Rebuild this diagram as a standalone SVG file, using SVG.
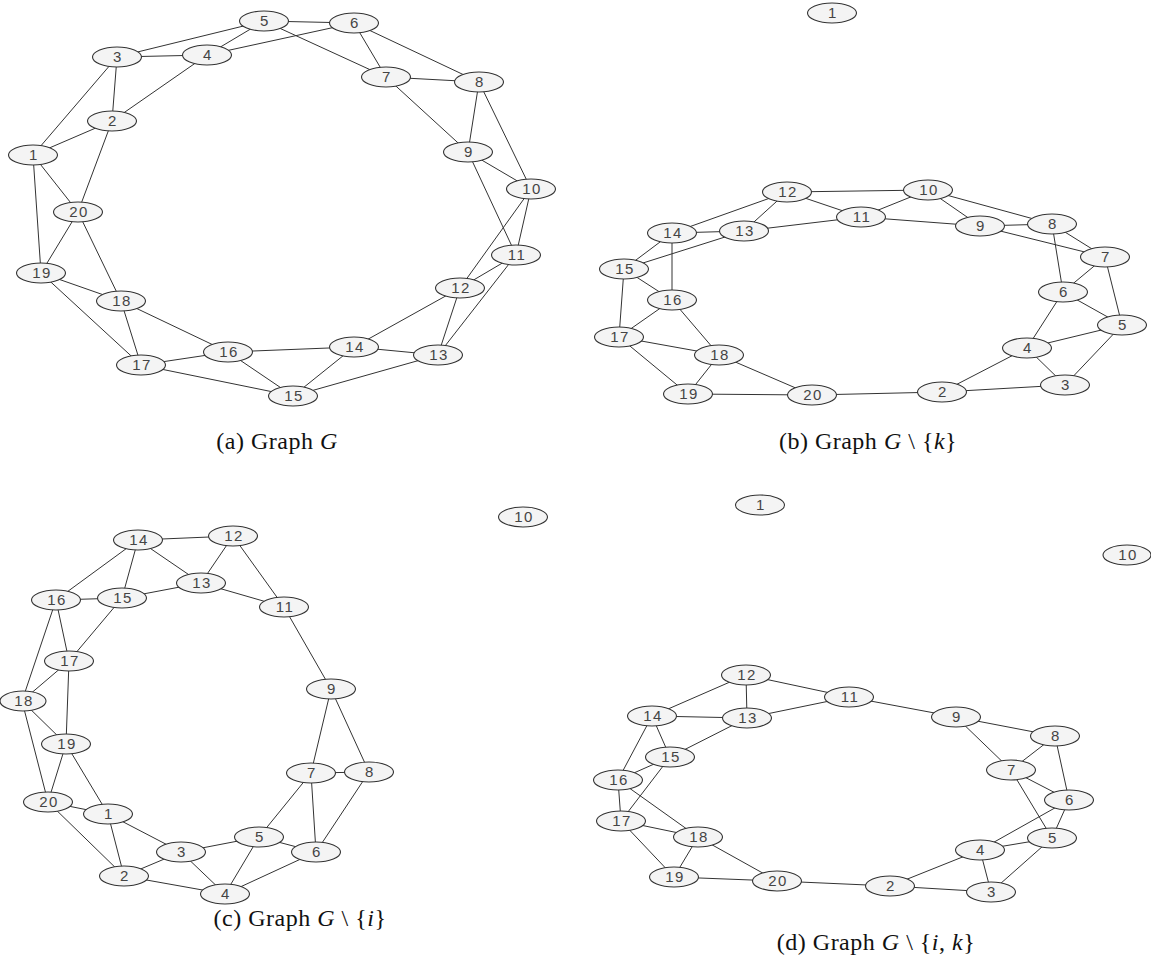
<svg xmlns="http://www.w3.org/2000/svg" width="1151" height="955" viewBox="0 0 1151 955">
<style>
.bg{fill:#ffffff}
.e line{stroke:#333333;stroke-width:1}
.node ellipse{fill:#f4f4f4;stroke:#333333;stroke-width:1.1}
.node text{font-family:"Liberation Sans",Arial,sans-serif;font-size:15px;fill:#444444;text-anchor:middle;letter-spacing:1.5px}
.cap{font-family:"Liberation Serif","Times New Roman",serif;font-size:24px;fill:#111111;text-anchor:middle;letter-spacing:0.5px}
.it{font-style:italic}
</style>
<rect class="bg" x="0" y="0" width="1151" height="955"/>
<g id="connectors" class="e">
<!-- (a) -->
<line x1="33" y1="155" x2="112" y2="121"/><line x1="33" y1="155" x2="117" y2="57"/><line x1="33" y1="155" x2="41" y2="273"/><line x1="33" y1="155" x2="78" y2="212"/>
<line x1="112" y1="121" x2="117" y2="57"/><line x1="112" y1="121" x2="207" y2="55"/><line x1="112" y1="121" x2="78" y2="212"/>
<line x1="117" y1="57" x2="207" y2="55"/><line x1="117" y1="57" x2="264" y2="21"/>
<line x1="207" y1="55" x2="264" y2="21"/><line x1="207" y1="55" x2="354" y2="23"/>
<line x1="264" y1="21" x2="354" y2="23"/><line x1="264" y1="21" x2="386" y2="77"/>
<line x1="354" y1="23" x2="386" y2="77"/><line x1="354" y1="23" x2="479" y2="82"/>
<line x1="386" y1="77" x2="479" y2="82"/><line x1="386" y1="77" x2="468" y2="152"/>
<line x1="479" y1="82" x2="468" y2="152"/><line x1="479" y1="82" x2="531" y2="189"/>
<line x1="468" y1="152" x2="531" y2="189"/><line x1="468" y1="152" x2="516" y2="255"/>
<line x1="531" y1="189" x2="516" y2="255"/><line x1="531" y1="189" x2="460" y2="288"/>
<line x1="516" y1="255" x2="460" y2="288"/><line x1="516" y1="255" x2="438" y2="355"/>
<line x1="460" y1="288" x2="438" y2="355"/><line x1="460" y1="288" x2="354" y2="347"/>
<line x1="438" y1="355" x2="354" y2="347"/><line x1="438" y1="355" x2="293" y2="396"/>
<line x1="354" y1="347" x2="293" y2="396"/><line x1="354" y1="347" x2="228" y2="352"/>
<line x1="293" y1="396" x2="228" y2="352"/><line x1="293" y1="396" x2="141" y2="365"/>
<line x1="228" y1="352" x2="141" y2="365"/><line x1="228" y1="352" x2="121" y2="301"/>
<line x1="141" y1="365" x2="121" y2="301"/><line x1="141" y1="365" x2="41" y2="273"/>
<line x1="121" y1="301" x2="41" y2="273"/><line x1="121" y1="301" x2="78" y2="212"/>
<line x1="41" y1="273" x2="78" y2="212"/>
<!-- (b) -->
<line x1="787" y1="192" x2="928" y2="190"/><line x1="787" y1="192" x2="861" y2="217"/><line x1="787" y1="192" x2="672" y2="233"/><line x1="787" y1="192" x2="744" y2="231"/>
<line x1="672" y1="233" x2="744" y2="231"/><line x1="672" y1="233" x2="624" y2="269"/><line x1="672" y1="233" x2="672" y2="300"/>
<line x1="744" y1="231" x2="624" y2="269"/><line x1="744" y1="231" x2="861" y2="217"/>
<line x1="624" y1="269" x2="672" y2="300"/><line x1="624" y1="269" x2="619" y2="337"/>
<line x1="672" y1="300" x2="619" y2="337"/><line x1="672" y1="300" x2="719" y2="355"/>
<line x1="619" y1="337" x2="719" y2="355"/><line x1="619" y1="337" x2="688" y2="394"/>
<line x1="719" y1="355" x2="688" y2="394"/><line x1="719" y1="355" x2="812" y2="395"/>
<line x1="688" y1="394" x2="812" y2="395"/><line x1="812" y1="395" x2="942" y2="392"/>
<line x1="861" y1="217" x2="928" y2="190"/><line x1="861" y1="217" x2="980" y2="226"/>
<line x1="928" y1="190" x2="980" y2="226"/><line x1="928" y1="190" x2="1052" y2="224"/>
<line x1="980" y1="226" x2="1052" y2="224"/><line x1="980" y1="226" x2="1105" y2="257"/>
<line x1="1052" y1="224" x2="1105" y2="257"/><line x1="1052" y1="224" x2="1063" y2="292"/>
<line x1="1105" y1="257" x2="1063" y2="292"/><line x1="1105" y1="257" x2="1122" y2="325"/>
<line x1="1063" y1="292" x2="1122" y2="325"/><line x1="1063" y1="292" x2="1027" y2="348"/>
<line x1="1027" y1="348" x2="1122" y2="325"/><line x1="1027" y1="348" x2="1065" y2="385"/>
<line x1="1122" y1="325" x2="1065" y2="385"/><line x1="1027" y1="348" x2="942" y2="392"/>
<line x1="942" y1="392" x2="1065" y2="385"/>
<!-- (c) -->
<line x1="138" y1="540" x2="233" y2="536"/><line x1="138" y1="540" x2="201" y2="583"/><line x1="138" y1="540" x2="122" y2="598"/><line x1="138" y1="540" x2="56" y2="600"/>
<line x1="233" y1="536" x2="201" y2="583"/><line x1="233" y1="536" x2="284" y2="607"/>
<line x1="201" y1="583" x2="122" y2="598"/><line x1="201" y1="583" x2="284" y2="607"/>
<line x1="56" y1="600" x2="122" y2="598"/><line x1="56" y1="600" x2="69" y2="661"/><line x1="56" y1="600" x2="22" y2="701"/>
<line x1="122" y1="598" x2="69" y2="661"/>
<line x1="69" y1="661" x2="22" y2="701"/><line x1="69" y1="661" x2="66" y2="744"/>
<line x1="22" y1="701" x2="66" y2="744"/><line x1="22" y1="701" x2="48" y2="802"/>
<line x1="66" y1="744" x2="48" y2="802"/><line x1="66" y1="744" x2="108" y2="814"/>
<line x1="48" y1="802" x2="108" y2="814"/><line x1="48" y1="802" x2="124" y2="876"/>
<line x1="108" y1="814" x2="124" y2="876"/><line x1="108" y1="814" x2="181" y2="852"/>
<line x1="181" y1="852" x2="124" y2="876"/><line x1="181" y1="852" x2="259" y2="837"/><line x1="181" y1="852" x2="225" y2="894"/>
<line x1="124" y1="876" x2="225" y2="894"/>
<line x1="259" y1="837" x2="225" y2="894"/><line x1="259" y1="837" x2="311" y2="773"/><line x1="259" y1="837" x2="316" y2="852"/>
<line x1="225" y1="894" x2="316" y2="852"/>
<line x1="311" y1="773" x2="316" y2="852"/><line x1="311" y1="773" x2="331" y2="689"/><line x1="311" y1="773" x2="369" y2="772"/>
<line x1="369" y1="772" x2="316" y2="852"/><line x1="369" y1="772" x2="331" y2="689"/>
<line x1="331" y1="689" x2="284" y2="607"/>
<!-- (d) -->
<line x1="746" y1="675" x2="652" y2="716"/><line x1="746" y1="675" x2="747" y2="718"/><line x1="746" y1="675" x2="849" y2="697"/>
<line x1="652" y1="716" x2="747" y2="718"/><line x1="652" y1="716" x2="670" y2="757"/><line x1="652" y1="716" x2="618" y2="780"/>
<line x1="747" y1="718" x2="670" y2="757"/><line x1="747" y1="718" x2="849" y2="697"/>
<line x1="670" y1="757" x2="618" y2="780"/><line x1="670" y1="757" x2="621" y2="821"/>
<line x1="618" y1="780" x2="621" y2="821"/><line x1="618" y1="780" x2="698" y2="837"/>
<line x1="621" y1="821" x2="698" y2="837"/><line x1="621" y1="821" x2="674" y2="877"/>
<line x1="698" y1="837" x2="674" y2="877"/><line x1="698" y1="837" x2="777" y2="881"/>
<line x1="674" y1="877" x2="777" y2="881"/><line x1="777" y1="881" x2="890" y2="886"/>
<line x1="849" y1="697" x2="956" y2="717"/>
<line x1="956" y1="717" x2="1055" y2="736"/><line x1="956" y1="717" x2="1011" y2="770"/>
<line x1="1055" y1="736" x2="1011" y2="770"/><line x1="1055" y1="736" x2="1069" y2="800"/>
<line x1="1011" y1="770" x2="1069" y2="800"/><line x1="1011" y1="770" x2="1052" y2="838"/>
<line x1="1069" y1="800" x2="1052" y2="838"/><line x1="1069" y1="800" x2="980" y2="850"/>
<line x1="980" y1="850" x2="1052" y2="838"/><line x1="980" y1="850" x2="991" y2="892"/>
<line x1="1052" y1="838" x2="991" y2="892"/><line x1="980" y1="850" x2="890" y2="886"/>
<line x1="890" y1="886" x2="991" y2="892"/>
</g>
<!-- Graph (a) nodes -->
<g id="a-n1" class="node"><ellipse cx="33" cy="155" rx="24.5" ry="10"/><text x="34" y="160">1</text></g>
<g id="a-n2" class="node"><ellipse cx="112" cy="121" rx="24.5" ry="10"/><text x="113" y="126">2</text></g>
<g id="a-n3" class="node"><ellipse cx="117" cy="57" rx="24.5" ry="10"/><text x="118" y="62">3</text></g>
<g id="a-n4" class="node"><ellipse cx="207" cy="55" rx="24.5" ry="10"/><text x="208" y="60">4</text></g>
<g id="a-n5" class="node"><ellipse cx="264" cy="21" rx="24.5" ry="10"/><text x="265" y="26">5</text></g>
<g id="a-n6" class="node"><ellipse cx="354" cy="23" rx="24.5" ry="10"/><text x="355" y="28">6</text></g>
<g id="a-n7" class="node"><ellipse cx="386" cy="77" rx="24.5" ry="10"/><text x="387" y="82">7</text></g>
<g id="a-n8" class="node"><ellipse cx="479" cy="82" rx="24.5" ry="10"/><text x="480" y="87">8</text></g>
<g id="a-n9" class="node"><ellipse cx="468" cy="152" rx="24.5" ry="10"/><text x="469" y="157">9</text></g>
<g id="a-n10" class="node"><ellipse cx="531" cy="189" rx="24.5" ry="10"/><text x="532" y="194">10</text></g>
<g id="a-n11" class="node"><ellipse cx="516" cy="255" rx="24.5" ry="10"/><text x="517" y="260">11</text></g>
<g id="a-n12" class="node"><ellipse cx="460" cy="288" rx="24.5" ry="10"/><text x="461" y="293">12</text></g>
<g id="a-n13" class="node"><ellipse cx="438" cy="355" rx="24.5" ry="10"/><text x="439" y="360">13</text></g>
<g id="a-n14" class="node"><ellipse cx="354" cy="347" rx="24.5" ry="10"/><text x="355" y="352">14</text></g>
<g id="a-n15" class="node"><ellipse cx="293" cy="396" rx="24.5" ry="10"/><text x="294" y="401">15</text></g>
<g id="a-n16" class="node"><ellipse cx="228" cy="352" rx="24.5" ry="10"/><text x="229" y="357">16</text></g>
<g id="a-n17" class="node"><ellipse cx="141" cy="365" rx="24.5" ry="10"/><text x="142" y="370">17</text></g>
<g id="a-n18" class="node"><ellipse cx="121" cy="301" rx="24.5" ry="10"/><text x="122" y="306">18</text></g>
<g id="a-n19" class="node"><ellipse cx="41" cy="273" rx="24.5" ry="10"/><text x="42" y="278">19</text></g>
<g id="a-n20" class="node"><ellipse cx="78" cy="212" rx="24.5" ry="10"/><text x="79" y="217">20</text></g>
<!-- Graph (b) nodes -->
<g id="b-n1" class="node"><ellipse cx="832" cy="13" rx="24.5" ry="10"/><text x="833" y="18">1</text></g>
<g id="b-n2" class="node"><ellipse cx="942" cy="392" rx="24.5" ry="10"/><text x="943" y="397">2</text></g>
<g id="b-n3" class="node"><ellipse cx="1065" cy="385" rx="24.5" ry="10"/><text x="1066" y="390">3</text></g>
<g id="b-n4" class="node"><ellipse cx="1027" cy="348" rx="24.5" ry="10"/><text x="1028" y="353">4</text></g>
<g id="b-n5" class="node"><ellipse cx="1122" cy="325" rx="24.5" ry="10"/><text x="1123" y="330">5</text></g>
<g id="b-n6" class="node"><ellipse cx="1063" cy="292" rx="24.5" ry="10"/><text x="1064" y="297">6</text></g>
<g id="b-n7" class="node"><ellipse cx="1105" cy="257" rx="24.5" ry="10"/><text x="1106" y="262">7</text></g>
<g id="b-n8" class="node"><ellipse cx="1052" cy="224" rx="24.5" ry="10"/><text x="1053" y="229">8</text></g>
<g id="b-n9" class="node"><ellipse cx="980" cy="226" rx="24.5" ry="10"/><text x="981" y="231">9</text></g>
<g id="b-n10" class="node"><ellipse cx="928" cy="190" rx="24.5" ry="10"/><text x="929" y="195">10</text></g>
<g id="b-n11" class="node"><ellipse cx="861" cy="217" rx="24.5" ry="10"/><text x="862" y="222">11</text></g>
<g id="b-n12" class="node"><ellipse cx="787" cy="192" rx="24.5" ry="10"/><text x="788" y="197">12</text></g>
<g id="b-n13" class="node"><ellipse cx="744" cy="231" rx="24.5" ry="10"/><text x="745" y="236">13</text></g>
<g id="b-n14" class="node"><ellipse cx="672" cy="233" rx="24.5" ry="10"/><text x="673" y="238">14</text></g>
<g id="b-n15" class="node"><ellipse cx="624" cy="269" rx="24.5" ry="10"/><text x="625" y="274">15</text></g>
<g id="b-n16" class="node"><ellipse cx="672" cy="300" rx="24.5" ry="10"/><text x="673" y="305">16</text></g>
<g id="b-n17" class="node"><ellipse cx="619" cy="337" rx="24.5" ry="10"/><text x="620" y="342">17</text></g>
<g id="b-n18" class="node"><ellipse cx="719" cy="355" rx="24.5" ry="10"/><text x="720" y="360">18</text></g>
<g id="b-n19" class="node"><ellipse cx="688" cy="394" rx="24.5" ry="10"/><text x="689" y="399">19</text></g>
<g id="b-n20" class="node"><ellipse cx="812" cy="395" rx="24.5" ry="10"/><text x="813" y="400">20</text></g>
<!-- Graph (c) nodes -->
<g id="c-n1" class="node"><ellipse cx="108" cy="814" rx="24.5" ry="10"/><text x="109" y="819">1</text></g>
<g id="c-n2" class="node"><ellipse cx="124" cy="876" rx="24.5" ry="10"/><text x="125" y="881">2</text></g>
<g id="c-n3" class="node"><ellipse cx="181" cy="852" rx="24.5" ry="10"/><text x="182" y="857">3</text></g>
<g id="c-n4" class="node"><ellipse cx="225" cy="894" rx="24.5" ry="10"/><text x="226" y="899">4</text></g>
<g id="c-n5" class="node"><ellipse cx="259" cy="837" rx="24.5" ry="10"/><text x="260" y="842">5</text></g>
<g id="c-n6" class="node"><ellipse cx="316" cy="852" rx="24.5" ry="10"/><text x="317" y="857">6</text></g>
<g id="c-n7" class="node"><ellipse cx="311" cy="773" rx="24.5" ry="10"/><text x="312" y="778">7</text></g>
<g id="c-n8" class="node"><ellipse cx="369" cy="772" rx="24.5" ry="10"/><text x="370" y="777">8</text></g>
<g id="c-n9" class="node"><ellipse cx="331" cy="689" rx="24.5" ry="10"/><text x="332" y="694">9</text></g>
<g id="c-n10" class="node"><ellipse cx="523" cy="517" rx="24.5" ry="10"/><text x="524" y="522">10</text></g>
<g id="c-n11" class="node"><ellipse cx="284" cy="607" rx="24.5" ry="10"/><text x="285" y="612">11</text></g>
<g id="c-n12" class="node"><ellipse cx="233" cy="536" rx="24.5" ry="10"/><text x="234" y="541">12</text></g>
<g id="c-n13" class="node"><ellipse cx="201" cy="583" rx="24.5" ry="10"/><text x="202" y="588">13</text></g>
<g id="c-n14" class="node"><ellipse cx="138" cy="540" rx="24.5" ry="10"/><text x="139" y="545">14</text></g>
<g id="c-n15" class="node"><ellipse cx="122" cy="598" rx="24.5" ry="10"/><text x="123" y="603">15</text></g>
<g id="c-n16" class="node"><ellipse cx="56" cy="600" rx="24.5" ry="10"/><text x="57" y="605">16</text></g>
<g id="c-n17" class="node"><ellipse cx="69" cy="661" rx="24.5" ry="10"/><text x="70" y="666">17</text></g>
<g id="c-n18" class="node"><ellipse cx="23" cy="701" rx="23" ry="10"/><text x="24" y="706">18</text></g>
<g id="c-n19" class="node"><ellipse cx="66" cy="744" rx="24.5" ry="10"/><text x="67" y="749">19</text></g>
<g id="c-n20" class="node"><ellipse cx="48" cy="802" rx="24.5" ry="10"/><text x="49" y="807">20</text></g>
<!-- Graph (d) nodes -->
<g id="d-n1" class="node"><ellipse cx="760" cy="505" rx="24.5" ry="10"/><text x="761" y="510">1</text></g>
<g id="d-n2" class="node"><ellipse cx="890" cy="886" rx="24.5" ry="10"/><text x="891" y="891">2</text></g>
<g id="d-n3" class="node"><ellipse cx="991" cy="892" rx="24.5" ry="10"/><text x="992" y="897">3</text></g>
<g id="d-n4" class="node"><ellipse cx="980" cy="850" rx="24.5" ry="10"/><text x="981" y="855">4</text></g>
<g id="d-n5" class="node"><ellipse cx="1052" cy="838" rx="24.5" ry="10"/><text x="1053" y="843">5</text></g>
<g id="d-n6" class="node"><ellipse cx="1069" cy="800" rx="24.5" ry="10"/><text x="1070" y="805">6</text></g>
<g id="d-n7" class="node"><ellipse cx="1011" cy="770" rx="24.5" ry="10"/><text x="1012" y="775">7</text></g>
<g id="d-n8" class="node"><ellipse cx="1055" cy="736" rx="24.5" ry="10"/><text x="1056" y="741">8</text></g>
<g id="d-n9" class="node"><ellipse cx="956" cy="717" rx="24.5" ry="10"/><text x="957" y="722">9</text></g>
<g id="d-n10" class="node"><ellipse cx="1127" cy="555" rx="24" ry="10"/><text x="1128" y="560">10</text></g>
<g id="d-n11" class="node"><ellipse cx="849" cy="697" rx="24.5" ry="10"/><text x="850" y="702">11</text></g>
<g id="d-n12" class="node"><ellipse cx="746" cy="675" rx="24.5" ry="10"/><text x="747" y="680">12</text></g>
<g id="d-n13" class="node"><ellipse cx="747" cy="718" rx="24.5" ry="10"/><text x="748" y="723">13</text></g>
<g id="d-n14" class="node"><ellipse cx="652" cy="716" rx="24.5" ry="10"/><text x="653" y="721">14</text></g>
<g id="d-n15" class="node"><ellipse cx="670" cy="757" rx="24.5" ry="10"/><text x="671" y="762">15</text></g>
<g id="d-n16" class="node"><ellipse cx="618" cy="780" rx="24.5" ry="10"/><text x="619" y="785">16</text></g>
<g id="d-n17" class="node"><ellipse cx="621" cy="821" rx="24.5" ry="10"/><text x="622" y="826">17</text></g>
<g id="d-n18" class="node"><ellipse cx="698" cy="837" rx="24.5" ry="10"/><text x="699" y="842">18</text></g>
<g id="d-n19" class="node"><ellipse cx="674" cy="877" rx="24.5" ry="10"/><text x="675" y="882">19</text></g>
<g id="d-n20" class="node"><ellipse cx="777" cy="881" rx="24.5" ry="10"/><text x="778" y="886">20</text></g>
<!-- Captions -->
<g id="captions">
<text class="cap" x="277" y="449">(a) Graph <tspan class="it">G</tspan></text>
<text class="cap" x="868" y="449">(b) Graph <tspan class="it">G</tspan> \ {<tspan class="it">k</tspan>}</text>
<text class="cap" x="300" y="926">(c) Graph <tspan class="it">G</tspan> \ {<tspan class="it">i</tspan>}</text>
<text class="cap" x="876" y="950">(d) Graph <tspan class="it">G</tspan> \ {<tspan class="it">i</tspan>, <tspan class="it">k</tspan>}</text>
</g>
</svg>
